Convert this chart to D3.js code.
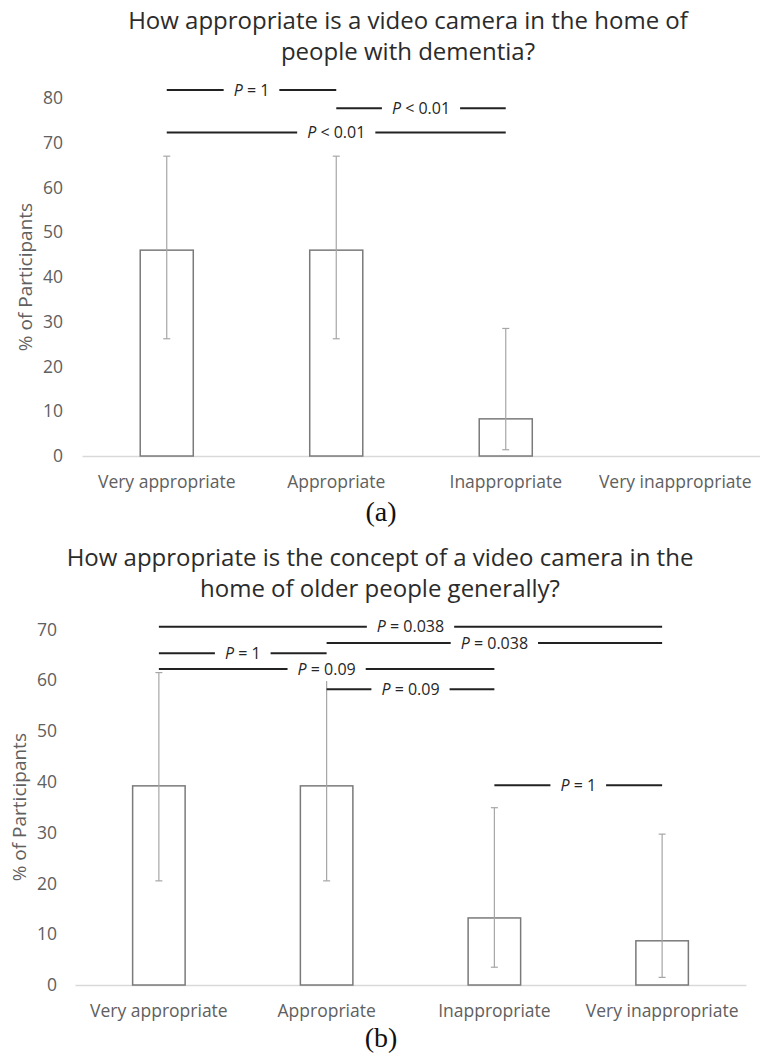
<!DOCTYPE html>
<html><head><meta charset="utf-8">
<script src="https://cdn.jsdelivr.net/npm/d3@7"></script>
<style>
html,body{margin:0;padding:0;background:#fff;}
svg{display:block;font-family:"Open Sans",sans-serif;}
</style></head><body>
<svg id="chart" width="760" height="1060"></svg>
<script>
// ---------- data ----------
const categories = ["Very appropriate", "Appropriate", "Inappropriate", "Very inappropriate"];

const titleA = ["How appropriate is a video camera in the home of", "people with dementia?"];
const valuesA = [46, 46, 8.3, 0];
const ciLowA  = [26.2, 26.2, 1.4, 0];
const ciHighA = [67, 67, 28.5, 0];
const ticksA  = [0, 10, 20, 30, 40, 50, 60, 70, 80];
const pFromA  = [0, 1, 0];
const pToA    = [1, 2, 2];
const pLevelA = [81.8, 77.7, 72.3];
const pTextA  = ["= 1", "< 0.01", "< 0.01"];
const captionA = "(a)";

const titleB = ["How appropriate is the concept of a video camera in the", "home of older people generally?"];
const valuesB = [39.2, 39.2, 13.2, 8.7];
const ciLowB  = [20.5, 20.5, 3.5, 1.5];
const ciHighB = [61.5, 61.5, 34.9, 29.7];
const ticksB  = [0, 10, 20, 30, 40, 50, 60, 70];
const pFromB  = [0, 1, 0, 0, 1, 2];
const pToB    = [3, 3, 1, 2, 2, 3];
const pLevelB = [70.5, 67.3, 65.3, 62.2, 58.2, 39.3];
const pTextB  = ["= 0.038", "= 0.038", "= 1", "= 0.09", "= 0.09", "= 1"];
const captionB = "(b)";

const yLabel = "% of Participants";

// ---------- drawing ----------
const svg = d3.select("#chart");

function panel(d, L) {
  const g = svg.append("g");
  const x = d3.scaleBand().domain(categories).range(L.xRange)
    .paddingInner(0.687).paddingOuter(0.3435);
  const y = d3.scaleLinear().domain([0, d.ticks[d.ticks.length - 1]]).range(L.yRange);
  const cx = i => x(categories[i]) + x.bandwidth() / 2;

  // title
  const t = g.append("text").attr("text-anchor", "middle")
    .attr("font-size", 24).attr("fill", "#2b2b2b");
  d.title.forEach((line, i) => {
    t.append("tspan").attr("x", L.titleX).attr("y", L.titleY[i]).text(line);
  });

  // y axis
  const ya = g.append("g").attr("transform", `translate(${L.xRange[0]},0)`)
    .call(d3.axisLeft(y).tickValues(d.ticks).tickSize(0).tickPadding(L.yPad));
  ya.select(".domain").remove();
  ya.selectAll("text").attr("font-size", 17.5).attr("fill", "#606060")
    .attr("font-family", "Open Sans");

  // x axis
  const xa = g.append("g").attr("transform", `translate(0,${y(0)})`)
    .call(d3.axisBottom(x).tickSize(0).tickPadding(20));
  xa.select(".domain").attr("stroke", "#d9d9d9").attr("stroke-width", 1.5);
  xa.selectAll("text").attr("font-size", 17.5).attr("fill", "#606060")
    .attr("font-family", "Open Sans");

  // y label
  g.append("text")
    .attr("transform", `translate(${L.yLabelX},${(L.yRange[0] + L.yRange[1]) / 2}) rotate(-90)`)
    .attr("text-anchor", "middle").attr("dominant-baseline", "central")
    .attr("font-size", 19).attr("fill", "#606060").text(yLabel);

  // bars
  g.append("g").selectAll("rect")
    .data(d.values.map((v, i) => ({ v, i })).filter(e => e.v > 0))
    .join("rect")
    .attr("x", e => x(categories[e.i]))
    .attr("width", x.bandwidth())
    .attr("y", e => y(e.v))
    .attr("height", e => y(0) - y(e.v))
    .attr("fill", "#fff").attr("stroke", "#7a7a7a").attr("stroke-width", 1.5);

  // error bars
  const eb = g.append("g").attr("stroke", "#a6a6a6").attr("stroke-width", 1.2);
  d.values.forEach((v, i) => {
    if (d.hi[i] === d.lo[i]) return;
    const c = cx(i);
    eb.append("line").attr("x1", c).attr("x2", c).attr("y1", y(d.lo[i])).attr("y2", y(d.hi[i]));
    [d.lo[i], d.hi[i]].forEach(val => {
      eb.append("line").attr("x1", c - 3.5).attr("x2", c + 3.5).attr("y1", y(val)).attr("y2", y(val));
    });
  });

  // significance annotations
  d.pFrom.forEach((f, k) => {
    const x1 = cx(f), x2 = cx(d.pTo[k]), yy = y(d.pLevel[k]);
    const a = g.append("g");
    a.append("line").attr("x1", x1).attr("x2", x2).attr("y1", yy).attr("y2", yy)
      .attr("stroke", "#222").attr("stroke-width", 2);
    const bg = a.append("rect").attr("fill", "#fff");
    const tx = a.append("text").attr("x", (x1 + x2) / 2).attr("y", yy)
      .attr("text-anchor", "middle").attr("dy", "0.35em")
      .attr("font-size", 16).attr("fill", "#262626");
    tx.append("tspan").attr("font-style", "italic").text("P");
    tx.append("tspan").text(" " + d.pText[k]);
    const bb = tx.node().getBBox();
    bg.attr("x", bb.x - 10).attr("width", bb.width + 20)
      .attr("y", yy - 11).attr("height", 23);
  });

  // caption
  g.append("text").attr("x", 381).attr("y", L.captionY).attr("text-anchor", "middle")
    .attr("font-family", "Liberation Serif").attr("font-size", 28).attr("fill", "#111")
    .text(d.caption);
}

panel(
  { title: titleA, values: valuesA, lo: ciLowA, hi: ciHighA, ticks: ticksA,
    pFrom: pFromA, pTo: pToA, pLevel: pLevelA, pText: pTextA, caption: captionA },
  { xRange: [82, 760], yRange: [456, 98], yPad: 19, yLabelX: 25,
    titleX: 408, titleY: [29, 60], captionY: 521 }
);
panel(
  { title: titleB, values: valuesB, lo: ciLowB, hi: ciHighB, ticks: ticksB,
    pFrom: pFromB, pTo: pToB, pLevel: pLevelB, pText: pTextB, caption: captionB },
  { xRange: [75, 746], yRange: [985, 629.4], yPad: 18, yLabelX: 18.5,
    titleX: 380, titleY: [566, 597], captionY: 1047 }
);
</script>
</body></html>
